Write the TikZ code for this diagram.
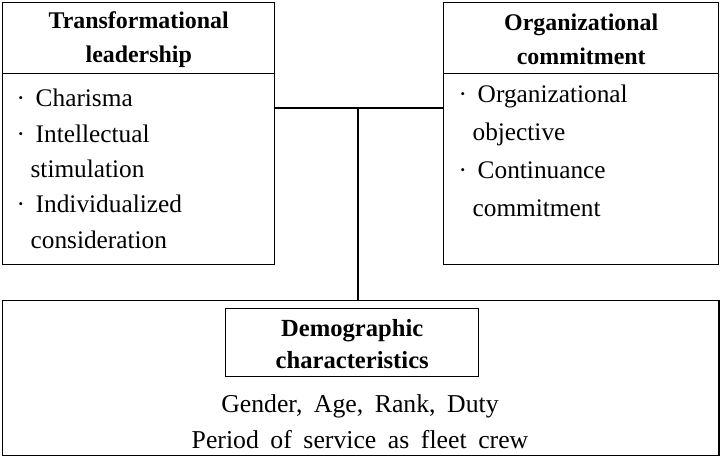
\documentclass[tikz,border=0pt]{standalone}
\usepackage{fontspec}
\setmainfont{Liberation Serif}
\usetikzlibrary{positioning, calc}
\newcommand\widespace{\spaceskip=0.45em\relax}
\newcommand\bul{·\hspace{0.42em}}
\newcommand\cont{\hspace*{0.55em}}

\begin{document}
\begin{tikzpicture}[
    x=0.025cm, y=-0.025cm,
    line width=1pt,
    every node/.style={align=center, inner sep=0pt},
    box/.style={draw, rectangle, anchor=north west},
    headtext/.style={font=\fontsize{17}{24}\selectfont\bfseries},
    listtext/.style={font=\fontsize{18}{25.1}\selectfont, align=left, anchor=base west},
    basetext/.style={font=\fontsize{18.3}{24.9}\selectfont\widespace}
]

    % Picture frame
    \useasboundingbox (0, 0) rectangle (728, 466);

    % Left box: Transformational leadership
    \node[box, minimum width=6.8cm, minimum height=1.775cm] (lhead) at (2, 2) {};
    \node[box, minimum width=6.8cm, minimum height=4.775cm] (lbody) at (2, 73) {};
    \node[headtext] at ([yshift=-1pt]lhead.center) {Transformational\\leadership};
    \node[listtext] (llist) at (16, 248) {\bul Charisma\\\bul Intellectual\\\cont stimulation\\\bul Individualized\\\cont consideration};

    % Right box: Organizational commitment
    \node[box, minimum width=6.875cm, minimum height=1.775cm] (rhead) at (443, 2) {};
    \node[box, minimum width=6.875cm, minimum height=4.775cm] (rbody) at (443, 73) {};
    \node[headtext] at ([yshift=-1pt]rhead.center) {Organizational\\commitment};
    \node[listtext, font=\fontsize{18}{27}\selectfont] (rlist) at (458, 216) {\bul Organizational\\\cont objective\\\bul Continuance\\\cont commitment};

    % Bottom box: Demographic characteristics
    \node[box, minimum width=17.9cm, minimum height=3.875cm] (demo) at (2, 300) {};
    \node[box, minimum width=6.325cm, minimum height=1.7cm] (dhead) at (225, 308) {};
    \node[headtext, font=\fontsize{17.5}{23}\selectfont\bfseries] at ([yshift=-1pt]dhead.center) {Demographic\\characteristics};
    \node[basetext, anchor=base] (dlist) at (360, 448) {Gender, Age, Rank, Duty\\Period of service as fleet crew};

    % Connectors
    \coordinate (jn) at (358, 108);
    \draw (lbody.east |- jn) -- (rbody.west |- jn);
    \draw (jn) -- (jn |- demo.north);

\end{tikzpicture}
\end{document}
